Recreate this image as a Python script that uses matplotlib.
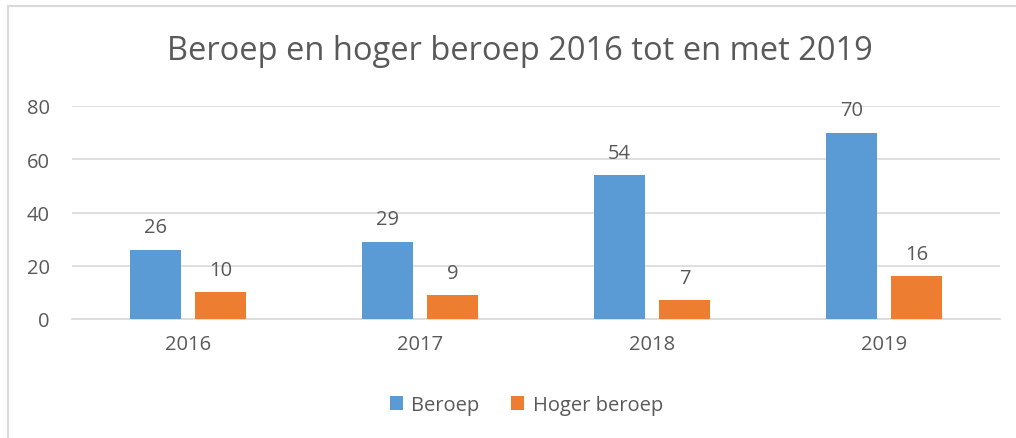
import numpy as np
import matplotlib.pyplot as plt
from matplotlib.patches import Rectangle

# Data
jaren = ['2016', '2017', '2018', '2019']
beroep = [26, 29, 54, 70]
hoger_beroep = [10, 9, 7, 16]

plt.rcParams['font.family'] = ['Open Sans', 'DejaVu Sans']
tekst_kleur = '#595959'

fig = plt.figure(figsize=(10.16, 4.39), dpi=100)
ax = fig.add_axes([72 / 1016, (439 - 320) / 439, 928 / 1016, 213 / 439])

x = np.arange(len(jaren))
breedte = 0.22
b1 = ax.bar(x - 0.14, beroep, breedte, color='#5B9BD5', label='Beroep', zorder=3)
b2 = ax.bar(x + 0.14, hoger_beroep, breedte, color='#ED7D31', label='Hoger beroep', zorder=3)

for bars in (b1, b2):
    ax.bar_label(bars, padding=9, fontsize=14.5, color=tekst_kleur)

ax.set_xlim(-0.5, len(jaren) - 0.5)
ax.set_ylim(0, 80)
ax.set_yticks([0, 20, 40, 60, 80])
ax.set_xticks(x)
ax.set_xticklabels(jaren)
ax.tick_params(axis='both', length=0, labelsize=14.5, labelcolor=tekst_kleur)
ax.tick_params(axis='x', pad=11)
ax.tick_params(axis='y', pad=16)
ax.yaxis.grid(True, color='#D9D9D9', linewidth=1.2, zorder=0)
for s in ['top', 'right', 'left']:
    ax.spines[s].set_visible(False)
ax.spines['bottom'].set_color('#D9D9D9')
ax.spines['bottom'].set_linewidth(1.2)
ax.set_axisbelow(True)

fig.text(0.512, 0.883, 'Beroep en hoger beroep 2016 tot en met 2019',
         ha='center', va='center', fontsize=23.5, color=tekst_kleur)

fig.legend(loc='center', bbox_to_anchor=(0.518, 0.075), ncol=2, frameon=False,
           fontsize=14.5, labelcolor=tekst_kleur, handlelength=0.65, handleheight=0.65,
           columnspacing=1.6, handletextpad=0.4)

# rand van de grafiek
fig.patches.append(Rectangle((8 / 1016, -0.1), 1.2, (439 - 7) / 439 + 0.1,
                             transform=fig.transFigure, fill=False,
                             edgecolor='#D9D9D9', linewidth=1.5))

fig.savefig('out.png', dpi=100)
